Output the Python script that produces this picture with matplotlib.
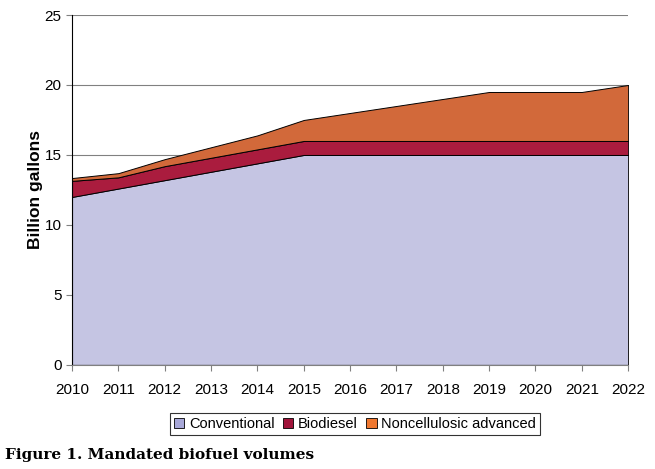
import numpy as np
import matplotlib
matplotlib.use("Agg")
import matplotlib.pyplot as plt
from matplotlib.patches import Patch

years = [2010, 2011, 2012, 2013, 2014, 2015, 2016, 2017, 2018, 2019, 2020, 2021, 2022]
conventional = [12.0, 12.6, 13.2, 13.8, 14.4, 15.0, 15.0, 15.0, 15.0, 15.0, 15.0, 15.0, 15.0]
biodiesel = [1.15, 0.8, 1.0, 1.0, 1.0, 1.0, 1.0, 1.0, 1.0, 1.0, 1.0, 1.0, 1.0]
noncellulosic = [0.2, 0.3, 0.5, 0.75, 1.0, 1.5, 2.0, 2.5, 3.0, 3.5, 3.5, 3.5, 4.0]

labels = ["Conventional", "Biodiesel", "Noncellulosic advanced"]
colors = ["#C5C5E3", "#AA1C3E", "#D2693A"]
legend_colors = ["#A8A8D8", "#A0143A", "#F07830"]

plt.rcParams["font.family"] = ["Liberation Sans", "DejaVu Sans"]

fig = plt.figure(figsize=(6.55, 4.69), dpi=100)
ax = fig.add_axes([0.110, 0.222, 0.849, 0.746])

ax.stackplot(years, conventional, biodiesel, noncellulosic,
             colors=colors, edgecolor="black", linewidth=0.7, zorder=2)

ax.set_xlim(2010, 2022)
ax.set_ylim(0, 25)
ax.set_xticks(years)
ax.set_yticks(range(0, 26, 5))
ax.yaxis.grid(True, color="#808080", linewidth=0.8, zorder=1)
ax.set_axisbelow(True)
ax.tick_params(axis="both", labelsize=11, direction="out", length=4, color="#808080")
ax.tick_params(axis="x", pad=9)
for side in ["top", "right"]:
    ax.spines[side].set_visible(False)
ax.spines["left"].set_color("black")
ax.spines["bottom"].set_color("#808080")
ax.set_ylabel("Billion gallons", fontsize=12.5, fontweight="bold")
ax.yaxis.set_label_coords(-0.052, 0.5)

handles = [Patch(facecolor=c, edgecolor="black", linewidth=0.6) for c in legend_colors]
leg = fig.legend(handles, labels, loc="center", bbox_to_anchor=(0.542, 0.096),
                 ncol=3, frameon=True, fontsize=10.5, handlelength=0.7, handleheight=0.7,
                 handletextpad=0.3, columnspacing=0.6, borderpad=0.3, fancybox=False)
leg.get_frame().set_edgecolor("black")
leg.get_frame().set_linewidth(0.8)

fig.text(0.008, 0.03, "Figure 1. Mandated biofuel volumes", fontsize=11,
         fontweight="bold", family="DejaVu Serif", ha="left", va="center")

fig.savefig("out.png", dpi=100)
